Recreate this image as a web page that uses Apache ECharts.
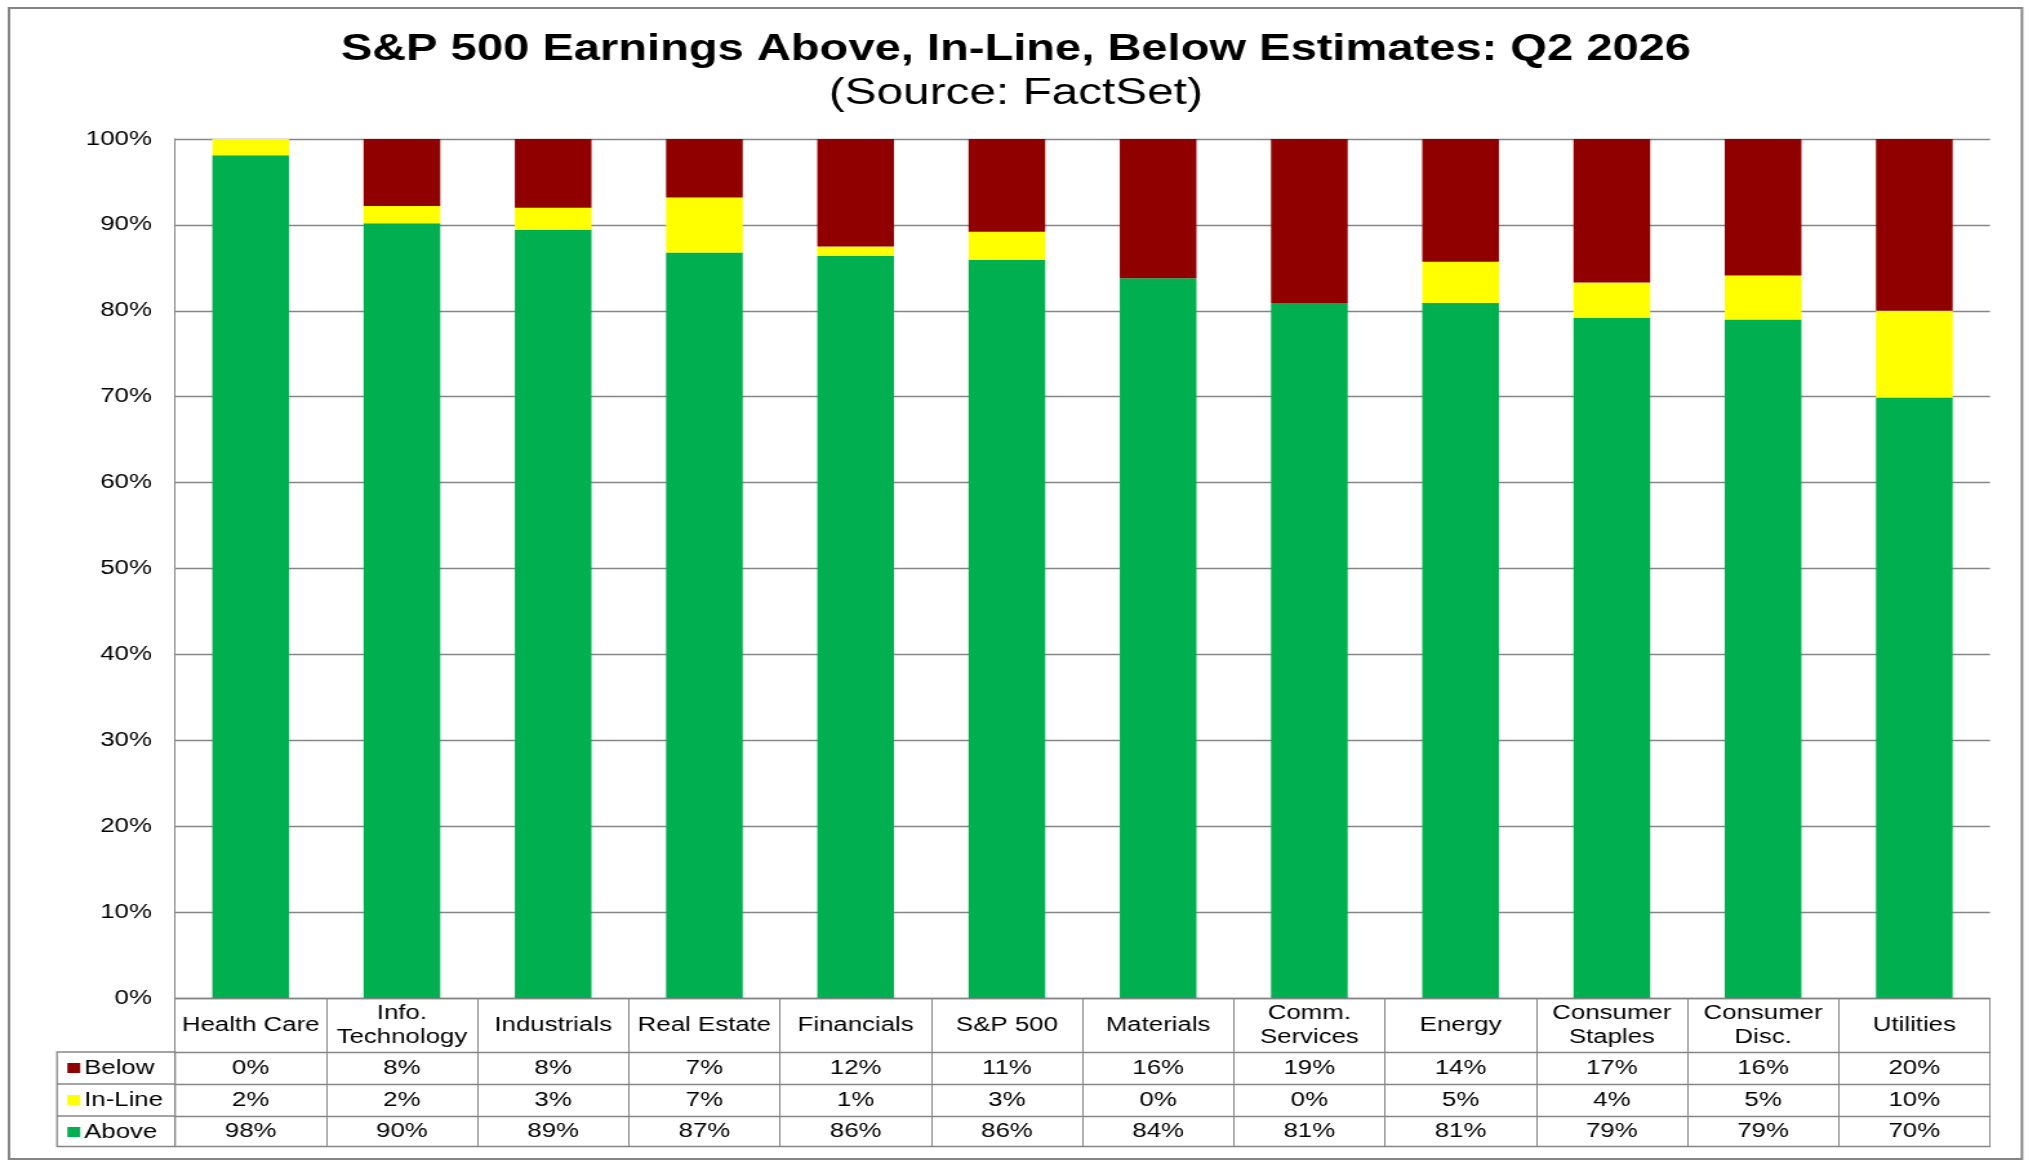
<!DOCTYPE html>
<html>
<head>
<meta charset="utf-8">
<script src="https://cdn.jsdelivr.net/npm/echarts@6/dist/echarts.min.js"></script>
<style>
  html, body { margin: 0; padding: 0; background: #fff; overflow: hidden; }
  #wrap { width: 2032px; height: 1168px; overflow: hidden; }
  #chart { width: 1575px; height: 1168px; transform: scaleX(1.29); transform-origin: 0 0; }
</style>
</head>
<body>
<div id="wrap"><div id="chart"></div></div>
<script>
// ---- data ----
const categories = ['Health Care', 'Info.\nTechnology', 'Industrials', 'Real Estate', 'Financials', 'S&P 500',
  'Materials', 'Comm.\nServices', 'Energy', 'Consumer\nStaples', 'Consumer\nDisc.', 'Utilities'];
const seriesNames = ['Below', 'In-Line', 'Above'];
// values shown in the data table (%)
const belowLabels  = [0, 8, 8, 7, 12, 11, 16, 19, 14, 17, 16, 20];
const inLineLabels = [2, 2, 3, 7, 1, 3, 0, 0, 5, 4, 5, 10];
const aboveLabels  = [98, 90, 89, 87, 86, 86, 84, 81, 81, 79, 79, 70];
// bar segment heights (%)
const aboveBar  = [98.1, 90.2, 89.4, 86.8, 86.4, 85.9, 83.8, 80.9, 80.9, 79.2, 79.0, 69.9];
const inLineBar = [1.9, 2.0, 2.6, 6.4, 1.1, 3.3, 0, 0, 4.8, 4.1, 5.1, 10.1];
const belowBar  = [0, 7.8, 8.0, 6.8, 12.5, 10.8, 16.2, 19.1, 14.3, 16.7, 15.9, 20.0];
const yTicks = { min: 0, max: 100, interval: 10 };

// ---- layout / style ----
const FONT = 'Liberation Sans, Arial, sans-serif';
const GREY = '#858585';
const COLORS = { 'Below': '#900000', 'In-Line': '#FFFF00', 'Above': '#00B050' };
const G = { left: 135.7, right: 32.4, top: 139, bottom: 170 };
const H = 1168, W = 1575;
const axisY = H - G.bottom;          // 998
const rowOff = [54, 86, 118, 148.5]; // table row lines below axis
const legLeft = 44.2;

const chart = echarts.init(document.getElementById('chart'));

function rowAxis(offset, labels, margin) {
  return {
    type: 'category', gridIndex: 0, position: 'bottom', offset: offset,
    data: categories,
    axisLine: { show: true, lineStyle: { color: GREY, width: 1.3 } },
    axisTick: { show: false },
    axisLabel: labels ? {
      interval: 0, margin: margin, verticalAlign: 'middle',
      fontFamily: FONT, fontSize: 20, color: '#000',
      formatter: (v, i) => labels[i] + '%'
    } : { show: false }
  };
}

const option = {
  backgroundColor: '#fff',
  animation: false,
  title: [
    { text: 'S&P 500 Earnings Above, In-Line, Below Estimates: Q2 2026', left: 'center', top: 26,
      textStyle: { fontFamily: FONT, fontSize: 36.5, fontWeight: 'bold', color: '#000' } },
    { text: '(Source: FactSet)', left: 'center', top: 70,
      textStyle: { fontFamily: FONT, fontSize: 37, fontWeight: 'normal', color: '#000' } }
  ],
  legend: {
    data: seriesNames, orient: 'vertical', left: legLeft + 8, top: 1058, padding: 0,
    itemGap: 12, itemWidth: 10, itemHeight: 10, icon: 'rect', selectedMode: false,
    textStyle: { fontFamily: FONT, fontSize: 20, color: '#000', padding: [0, 0, 0, -2] }
  },
  grid: { left: G.left, right: G.right, top: G.top, bottom: G.bottom, containLabel: false },
  xAxis: [
    {
      type: 'category', data: categories, position: 'bottom',
      axisLine: { show: true, lineStyle: { color: GREY, width: 1.3 } },
      axisTick: { show: true, alignWithLabel: false, interval: 0, length: rowOff[3], lineStyle: { color: GREY, width: 1 } },
      axisLabel: { interval: 0, margin: 27, verticalAlign: 'middle', lineHeight: 24,
        fontFamily: FONT, fontSize: 20, color: '#000' }
    },
    rowAxis(rowOff[0], belowLabels, 16),
    rowAxis(rowOff[1], inLineLabels, 16),
    rowAxis(rowOff[2], aboveLabels, 15),
    rowAxis(rowOff[3], null, 0)
  ],
  yAxis: {
    type: 'value', min: yTicks.min, max: yTicks.max, interval: yTicks.interval,
    axisLine: { show: true, lineStyle: { color: GREY, width: 1 } },
    axisTick: { show: false },
    splitLine: { show: true, lineStyle: { color: GREY, width: 1.3 } },
    axisLabel: { margin: 18, fontFamily: FONT, fontSize: 20, color: '#000', formatter: '{value}%' }
  },
  series: [
    { name: 'Above', type: 'bar', stack: 'total', data: aboveBar, barWidth: '50.7%',
      itemStyle: { color: COLORS['Above'] } },
    { name: 'In-Line', type: 'bar', stack: 'total', data: inLineBar, barWidth: '50.7%',
      itemStyle: { color: COLORS['In-Line'] } },
    { name: 'Below', type: 'bar', stack: 'total', data: belowBar, barWidth: '50.7%',
      itemStyle: { color: COLORS['Below'] } }
  ],
  graphic: [
    // outer chart border
    { type: 'rect', shape: { x: 7, y: 8, width: 1560.4, height: 1151 }, silent: true,
      style: { fill: null, stroke: GREY, lineWidth: 2 } },
    // legend column of the data table
    { type: 'rect', shape: { x: legLeft, y: axisY + rowOff[0], width: G.left - legLeft, height: rowOff[3] - rowOff[0] },
      silent: true, style: { fill: null, stroke: GREY, lineWidth: 1.3 } },
    { type: 'line', shape: { x1: legLeft, y1: axisY + rowOff[1], x2: G.left, y2: axisY + rowOff[1] },
      silent: true, style: { stroke: GREY, lineWidth: 1.3 } },
    { type: 'line', shape: { x1: legLeft, y1: axisY + rowOff[2], x2: G.left, y2: axisY + rowOff[2] },
      silent: true, style: { stroke: GREY, lineWidth: 1.3 } }
  ]
};
chart.setOption(option);
</script>
</body>
</html>
